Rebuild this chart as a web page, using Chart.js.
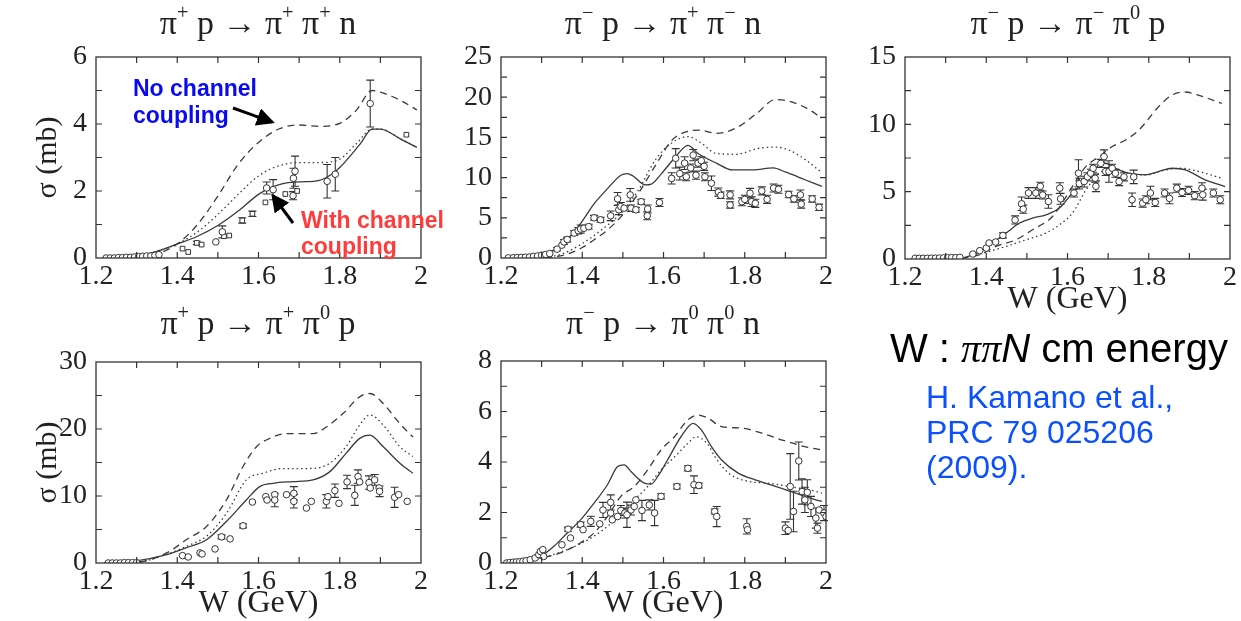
<!DOCTYPE html>
<html><head><meta charset="utf-8">
<script src="https://cdn.jsdelivr.net/npm/chart.js@4.4.1/dist/chart.umd.min.js"></script>
<style>
html,body{margin:0;padding:0;width:1241px;height:621px;overflow:hidden;background:#fff;}
body{position:relative;}
canvas.cv{position:absolute;}
.ttl{position:absolute;font-family:"Liberation Serif","Times New Roman",serif;font-size:34px;line-height:34px;color:#222;white-space:nowrap;transform:translateX(-50%);}
.ttl sup{font-size:0.6em;line-height:0;position:relative;top:-0.15em;vertical-align:super;}
.ann{position:absolute;font-family:"Liberation Sans",Arial,sans-serif;font-weight:bold;font-size:23px;line-height:27px;white-space:nowrap;}
#wtxt{position:absolute;left:890px;top:328px;font-family:"Liberation Sans",Arial,sans-serif;font-size:40px;line-height:40px;color:#000;white-space:nowrap;}
#wtxt .pi{font-family:"Liberation Serif",serif;font-style:italic;}
#cite{position:absolute;left:926px;top:380px;font-family:"Liberation Sans",Arial,sans-serif;font-size:32px;line-height:35px;color:#0a50ff;white-space:nowrap;}
svg#arrows{position:absolute;left:0;top:0;}
</style>
</head><body>
<canvas id="c1" class="cv" width="440" height="318" style="left:0px;top:0px"></canvas>
<canvas id="c2" class="cv" width="440" height="318" style="left:405px;top:0px"></canvas>
<canvas id="c3" class="cv" width="440" height="319" style="left:809px;top:0px"></canvas>
<canvas id="c4" class="cv" width="440" height="318" style="left:0px;top:305px"></canvas>
<canvas id="c5" class="cv" width="440" height="319" style="left:405px;top:304px"></canvas>

<div class="ttl" style="left:258px;top:6px">π<sup>+</sup> p → π<sup>+</sup> π<sup>+</sup> n</div>
<div class="ttl" style="left:663px;top:6px">π<sup>−</sup> p → π<sup>+</sup> π<sup>−</sup> n</div>
<div class="ttl" style="left:1068px;top:6px">π<sup>−</sup> p → π<sup>−</sup> π<sup>0</sup> p</div>
<div class="ttl" style="left:258px;top:306px">π<sup>+</sup> p → π<sup>+</sup> π<sup>0</sup> p</div>
<div class="ttl" style="left:663px;top:306px">π<sup>−</sup> p → π<sup>0</sup> π<sup>0</sup> n</div>

<div class="ann" style="left:133px;top:75px;color:#0a0af0">No channel<br>coupling</div>
<div class="ann" style="left:301px;top:207px;color:#ff3b3b;line-height:26px">With channel<br>coupling</div>
<svg id="arrows" width="1241" height="621">
  <defs><marker id="ah" markerWidth="6" markerHeight="6" refX="5" refY="3" orient="auto" markerUnits="strokeWidth"><path d="M0,0 L6,3 L0,6 z" fill="#000"/></marker></defs>
  <line x1="233" y1="108" x2="272" y2="122" stroke="#000" stroke-width="3" marker-end="url(#ah)"/>
  <line x1="293" y1="223" x2="273" y2="196" stroke="#000" stroke-width="3" marker-end="url(#ah)"/>
</svg>
<div id="wtxt">W : <span class="pi">ππ</span><i>N</i> cm energy</div>
<div id="cite">H. Kamano et al.,<br>PRC 79 025206<br>(2009).</div>

<script>
// ---------------- data ----------------
// x-axis tick labels (W in GeV)
const wTicks = [1.2, 1.4, 1.6, 1.8, 2.0];

// Panel 1: pi+ p -> pi+ pi+ n  (sigma in mb)
const p1Dashed = [[1.22,0],[1.3,0.03],[1.35,0.12],[1.4,0.42],[1.45,1.0],[1.5,1.85],[1.55,2.8],[1.6,3.45],[1.65,3.85],[1.7,3.97],[1.75,3.93],[1.8,4.02],[1.84,4.4],[1.88,5.0],[1.9,4.95],[1.95,4.7],[1.99,4.42]];
const p1Dotted = [[1.22,0],[1.3,0.05],[1.35,0.2],[1.4,0.42],[1.45,0.78],[1.5,1.3],[1.55,1.9],[1.6,2.45],[1.65,2.75],[1.7,2.85],[1.75,2.85],[1.8,2.95],[1.84,3.4],[1.88,3.85],[1.9,3.85],[1.95,3.55],[1.99,3.3]];
const p1Solid  = [[1.22,0],[1.3,0.05],[1.35,0.2],[1.4,0.42],[1.45,0.65],[1.5,0.97],[1.55,1.4],[1.6,1.9],[1.63,2.1],[1.66,2.22],[1.7,2.27],[1.75,2.32],[1.78,2.5],[1.8,2.7],[1.85,3.4],[1.88,3.85],[1.9,3.85],[1.95,3.55],[1.99,3.3]];
const p1Circles = [[1.225,0,0],[1.235,0,0],[1.245,0,0],[1.255,0.01,0],[1.265,0.01,0],[1.275,0.02,0],[1.285,0.02,0],[1.295,0.03,0],[1.305,0.04,0],[1.315,0.05,0],[1.325,0.06,0],[1.335,0.06,0],[1.345,0.08,0],[1.355,0.1,0],
  [1.495,0.48,0],[1.511,0.78,0.18],[1.62,2.09,0.18],[1.636,2.04,0.3],[1.685,1.86,0.12],[1.686,2.38,0.3],[1.69,2.59,0.45],[1.769,2.29,0.5],[1.789,2.5,0.5],[1.875,4.61,0.7]];
const p1Squares = [[1.413,0.28,0],[1.427,0.18,0],[1.448,0.45,0.05],[1.46,0.4,0],[1.515,0.65,0],[1.528,0.67,0],[1.56,1.12,0.08],[1.585,1.32,0.08],[1.617,1.66,0],[1.666,1.91,0],[1.695,2.0,0],[1.964,3.68,0]];

// Panel 2: pi- p -> pi+ pi- n
const p2Dashed = [[1.22,0],[1.3,0.05],[1.338,0.2],[1.37,0.6],[1.4,1.3],[1.43,2.3],[1.46,3.4],[1.5,5.4],[1.54,8.2],[1.58,11.5],[1.62,14.6],[1.65,15.6],[1.69,15.9],[1.73,15.5],[1.78,16.2],[1.83,18.0],[1.875,19.7],[1.9,19.6],[1.95,18.7],[1.99,17.4]];
const p2Dotted = [[1.22,0],[1.3,0.1],[1.35,0.5],[1.4,1.8],[1.45,3.6],[1.5,5.8],[1.54,8.6],[1.58,12.2],[1.62,14.3],[1.66,15.1],[1.69,14.4],[1.73,13.0],[1.78,12.9],[1.83,13.6],[1.875,13.8],[1.91,13.4],[1.95,12.2],[1.99,10.6]];
const p2Solid  = [[1.22,0],[1.28,0.1],[1.313,0.6],[1.346,1.5],[1.39,3.9],[1.43,6.8],[1.46,8.5],[1.495,10.3],[1.51,10.5],[1.525,10.2],[1.555,9.1],[1.57,9.2],[1.595,10.5],[1.63,12.6],[1.66,14.0],[1.685,13.0],[1.73,11.8],[1.77,10.95],[1.82,10.95],[1.87,11.2],[1.9,10.7],[1.95,9.7],[1.99,8.9]];
const p2Circles = [[1.218,0.02,0],[1.23,0.03,0],[1.24,0.05,0],[1.25,0.07,0],[1.26,0.1,0],[1.27,0.12,0],[1.28,0.2,0],[1.29,0.25,0],[1.3,0.35,0],[1.31,0.45,0],[1.32,0.55,0],[1.338,1.1,0.2],[1.35,1.6,0],[1.355,2.0,0.3],[1.363,2.3,0.3],[1.38,3.1,0.3],[1.39,3.4,0.4],[1.396,3.6,0.5],[1.404,3.7,0],[1.416,3.9,0.3],[1.429,5.0,0.3],[1.445,4.75,0.3],[1.47,5.25,0.6],[1.487,7.35,0.8],[1.49,6.0,0.6],[1.495,6.4,0.5],[1.503,6.2,0],[1.518,7.85,0.8],[1.52,6.2,0.4],[1.532,6.0,0.3],[1.545,7.0,0.3],[1.56,5.25,0.5],[1.561,6.1,0.5],[1.59,6.9,0.5],[1.62,9.9,0.7],[1.63,12.4,1.2],[1.64,10.5,0.8],[1.652,11.8,0.8],[1.656,10.1,0.5],[1.667,11.2,0.5],[1.673,12.8,0.7],[1.68,10.3,0.5],[1.685,11.8,0.5],[1.693,12.1,0.5],[1.7,11.4,0.5],[1.702,10.1,0.5],[1.718,9.3,0.9],[1.735,8.2,0.5],[1.741,7.8,0.4],[1.764,7.85,0.5],[1.764,6.6,0.4],[1.793,7.0,0.5],[1.8,7.3,0.5],[1.813,8.06,0.6],[1.817,7.0,0.6],[1.826,6.8,0.5],[1.842,8.35,0.5],[1.855,7.3,0.5],[1.871,8.7,0.5],[1.883,8.55,0.5],[1.908,7.9,0.4],[1.921,7.35,0.4],[1.937,7.85,0.6],[1.939,6.7,0.5],[1.966,7.35,0.4],[1.983,6.3,0.4]];

// Panel 3: pi- p -> pi- pi0 p
const p3Dashed = [[1.22,0],[1.33,0.05],[1.384,0.32],[1.424,0.94],[1.473,1.43],[1.514,2.17],[1.563,3.16],[1.612,5.38],[1.645,6.86],[1.678,7.6],[1.71,8.35],[1.743,8.84],[1.776,9.58],[1.824,11.3],[1.857,12.17],[1.89,12.4],[1.922,12.17],[1.98,11.55]];
const p3Dotted = [[1.22,0],[1.33,0.05],[1.408,0.57],[1.449,0.94],[1.498,1.43],[1.547,1.93],[1.58,2.54],[1.612,3.4],[1.645,5.1],[1.678,6.37],[1.71,6.74],[1.751,6.37],[1.792,6.25],[1.84,6.6],[1.881,6.74],[1.922,6.5],[1.98,6.0]];
const p3Solid  = [[1.22,0],[1.33,0.05],[1.367,0.3],[1.408,1.06],[1.449,1.93],[1.482,2.67],[1.514,3.04],[1.547,3.28],[1.58,3.78],[1.612,4.9],[1.645,5.88],[1.678,7.0],[1.694,7.1],[1.718,6.74],[1.751,6.37],[1.792,6.25],[1.824,6.49],[1.857,6.74],[1.89,6.62],[1.939,5.88],[1.988,5.38]];
const p3Circles = [[1.225,0.05,0],[1.235,0.05,0],[1.245,0.05,0],[1.255,0.05,0],[1.265,0.06,0],[1.275,0.06,0],[1.285,0.07,0],[1.295,0.08,0],[1.305,0.09,0],[1.315,0.1,0],[1.325,0.1,0],[1.335,0.12,0],
  [1.367,0.37,0],[1.384,0.62,0],[1.4,0.81,0],[1.407,1.19,0],[1.423,1.26,0],[1.441,1.75,0.2],[1.471,2.9,0.3],[1.487,4.1,0.5],[1.491,3.7,0.3],[1.504,4.9,0.4],[1.522,4.9,0.4],[1.533,5.4,0.3],[1.539,4.75,0.3],[1.553,4.27,0.5],[1.581,5.26,0.4],[1.583,4.47,0.4],[1.616,4.9,0.3],[1.627,6.37,1.0],[1.629,5.6,0.4],[1.641,5.75,0.4],[1.649,6.1,0.3],[1.657,6.37,0.3],[1.663,6.74,0.3],[1.668,6.0,0.3],[1.67,5.4,0.4],[1.682,7.1,0.3],[1.69,7.6,0.5],[1.694,6.5,0.3],[1.702,6.5,0.8],[1.71,6.74,0.3],[1.718,6.37,0.3],[1.727,5.75,0.3],[1.739,6.1,0.3],[1.763,6.1,0.5],[1.759,4.4,0.5],[1.785,4.15,0.3],[1.793,4.4,0.3],[1.804,4.9,0.5],[1.816,4.2,0.3],[1.839,4.9,0.3],[1.851,4.5,0.4],[1.869,5.26,0.3],[1.882,4.94,0.3],[1.898,5.1,0.3],[1.913,4.7,0.3],[1.931,5.26,0.4],[1.933,4.77,0.4],[1.959,4.9,0.3],[1.976,4.4,0.3]];

// Panel 4: pi+ p -> pi+ pi0 p
const p4Dashed = [[1.22,0],[1.3,0.1],[1.374,1.5],[1.423,3.5],[1.472,5.45],[1.521,9.4],[1.562,14.4],[1.595,17.35],[1.628,18.6],[1.669,19.3],[1.702,19.3],[1.734,19.3],[1.767,20.3],[1.808,22.3],[1.849,24.8],[1.874,25.3],[1.907,23.8],[1.948,20.8],[1.98,18.8]];
const p4Dotted = [[1.22,0],[1.3,0.1],[1.374,1.3],[1.423,2.5],[1.472,4.0],[1.521,7.4],[1.57,12.4],[1.611,13.4],[1.66,14.1],[1.718,14.1],[1.767,14.6],[1.816,17.4],[1.849,20.6],[1.874,22.1],[1.907,20.6],[1.948,17.35],[1.98,15.9]];
const p4Solid  = [[1.22,0],[1.292,0.25],[1.374,1.24],[1.423,2.3],[1.472,3.47],[1.521,6.2],[1.57,9.4],[1.603,11.4],[1.636,11.9],[1.685,12.15],[1.734,12.4],[1.775,13.6],[1.816,16.4],[1.849,18.6],[1.874,19.1],[1.907,17.35],[1.948,14.9],[1.98,13.4]];
const p4Circles = [[1.23,0,0],[1.24,0,0],[1.25,0,0],[1.26,0,0],[1.27,0.05,0],[1.28,0.05,0],[1.29,0.05,0],[1.3,0.05,0],
  [1.413,1.1,0],[1.427,0.9,0],[1.456,1.5,0],[1.461,1.35,0],[1.493,2.1,0],[1.509,3.9,0.3],[1.53,3.6,0],[1.562,5.55,0.3],[1.585,9.1,0],[1.618,9.9,0],[1.621,9.4,0],[1.64,10.2,0],[1.64,9.4,1.0],[1.669,10.2,0],[1.687,10.4,1.0],[1.687,9.2,1.0],[1.718,8.2,0],[1.73,9.2,0],[1.767,9.2,1.0],[1.771,9.9,0],[1.788,10.8,1.0],[1.798,8.9,0],[1.818,12.1,1.0],[1.837,10.1,1.5],[1.845,12.9,1.0],[1.849,12.1,0],[1.872,12.0,1.0],[1.875,11.2,0],[1.886,12.4,0.8],[1.897,11.2,0],[1.898,10.7,0.8],[1.935,9.8,1.5],[1.945,10.2,0],[1.966,9.2,0]];

// Panel 5: pi- p -> pi0 pi0 n
const p5Dashed = [[1.22,0.02],[1.247,0.07],[1.297,0.2],[1.346,0.4],[1.396,0.8],[1.429,1.19],[1.462,1.84],[1.495,2.64],[1.528,3.03],[1.561,3.69],[1.594,4.48],[1.627,5.0],[1.66,5.67],[1.685,5.86],[1.71,5.73],[1.743,5.4],[1.792,5.34],[1.842,5.14],[1.892,4.87],[1.95,4.6],[1.99,4.48]];
const p5Dotted = [[1.22,0.02],[1.3,0.2],[1.4,0.8],[1.462,1.45],[1.495,1.98],[1.528,2.5],[1.561,3.03],[1.594,3.69],[1.627,4.2],[1.66,4.74],[1.68,5.0],[1.71,4.68],[1.727,4.2],[1.76,3.56],[1.81,3.23],[1.859,3.16],[1.908,3.03],[1.958,2.9],[1.99,2.77]];
const p5Solid  = [[1.22,0.02],[1.25,0.07],[1.297,0.26],[1.33,0.66],[1.363,1.19],[1.396,1.71],[1.429,2.37],[1.462,3.1],[1.487,3.82],[1.503,3.89],[1.52,3.62],[1.553,3.16],[1.569,3.12],[1.586,3.43],[1.61,4.08],[1.643,5.0],[1.673,5.53],[1.693,5.27],[1.718,4.61],[1.743,4.08],[1.784,3.56],[1.826,3.29],[1.876,3.03],[1.925,2.77],[1.975,2.5],[1.99,2.44]];
const p5Circles = [[1.214,0,0],[1.222,0.02,0],[1.23,0.03,0],[1.238,0.04,0],[1.246,0.05,0],[1.254,0.07,0],[1.262,0.09,0],[1.272,0.13,0],[1.284,0.2,0],[1.293,0.33,0],[1.297,0.46,0],[1.303,0.53,0],[1.305,0.26,0],
  [1.35,0.72,0],[1.365,1.34,0.08],[1.371,0.99,0],[1.396,1.52,0.1],[1.402,1.32,0],[1.421,1.65,0.2],[1.443,1.55,0],[1.451,2.1,0.3],[1.47,2.4,0.3],[1.47,1.98,0],[1.474,1.71,0],[1.487,1.84,0],[1.495,2.08,0.2],[1.505,1.98,0.2],[1.51,1.91,0.5],[1.52,2.1,0.2],[1.528,2.24,0],[1.532,2.5,0],[1.547,2.08,0.4],[1.565,2.3,0.2],[1.578,1.98,0.5],[1.594,2.64,0.1],[1.633,3.03,0.1],[1.66,3.75,0.1],[1.675,3.1,0.35],[1.687,3.07,0.1],[1.726,2.04,0.1],[1.731,1.84,0.4],[1.805,1.45,0.3],[1.807,1.32,0],[1.9,1.38,0.25],[1.907,1.29,0],[1.912,3.03,1.3],[1.92,2.04,0.8],[1.933,4.04,0.75],[1.941,2.83,0.5],[1.948,2.5,0.5],[1.954,2.8,0.5],[1.963,2.24,0.4],[1.975,1.78,0.4],[1.979,1.38,0.2],[1.983,2.1,0],[1.995,1.98,0.3],[2.0,1.84,0]];

// ---------------- plugins ----------------
const frameTicks = {
  id:'frameTicks',
  afterDraw(chart, args, o){
    const {ctx, chartArea:a, scales:{x,y}} = chart;
    ctx.save();
    ctx.strokeStyle='#333'; ctx.lineWidth=1.3;
    ctx.strokeRect(a.left, a.top, a.right-a.left, a.bottom-a.top);
    ctx.lineWidth=1.2;
    const L=6;
    ctx.beginPath();
    const nx = Math.round((x.max-x.min)/o.xStep);
    for(let i=1;i<nx;i++){ const px=x.getPixelForValue(x.min+i*o.xStep);
      ctx.moveTo(px,a.bottom); ctx.lineTo(px,a.bottom-L); ctx.moveTo(px,a.top); ctx.lineTo(px,a.top+L); }
    const ny = Math.round((y.max-y.min)/o.yStep);
    for(let i=1;i<ny;i++){ const py=y.getPixelForValue(y.min+i*o.yStep);
      ctx.moveTo(a.left,py); ctx.lineTo(a.left+L,py); ctx.moveTo(a.right,py); ctx.lineTo(a.right-L,py); }
    ctx.stroke();
    ctx.restore();
  }
};
const errorBars = {
  id:'errorBars',
  beforeDatasetsDraw(chart){
    const {ctx, scales:{x,y}} = chart;
    ctx.save(); ctx.strokeStyle='#333'; ctx.lineWidth=1.1;
    chart.data.datasets.forEach(ds=>{
      if(!ds.errors) return;
      ds.data.forEach((p,j)=>{
        const e = ds.errors[j]; if(!e) return;
        const px=x.getPixelForValue(p.x), y1=y.getPixelForValue(p.y+e), y2=y.getPixelForValue(p.y-e);
        ctx.beginPath();
        ctx.moveTo(px,y1); ctx.lineTo(px,y2);
        ctx.moveTo(px-4,y1); ctx.lineTo(px+4,y1);
        ctx.moveTo(px-4,y2); ctx.lineTo(px+4,y2);
        ctx.stroke();
      });
    });
    ctx.restore();
  }
};

// ---------------- builders ----------------
const pts = arr => arr.map(r=>({x:r[0], y:r[1]}));
const lineDs = (arr, dash) => ({data:pts(arr), showLine:true, pointRadius:0, borderColor:'#3a3a3a', borderWidth:1.3, borderDash:dash, fill:false, cubicInterpolationMode:'monotone', order:2});
const markDs = (arr, style) => ({data:pts(arr), errors:arr.map(r=>r[2]), showLine:false, pointStyle:style, pointRadius:3.3, borderWidth:1, borderColor:'#333', backgroundColor:'#fff', order:1});
const fmt = v => String(Number(Number(v).toFixed(2)));

const serif = '"Liberation Serif","Times New Roman",serif';
function makeChart(id, o){
  const datasets = [
    lineDs(o.dashed,[7,5]),
    lineDs(o.dotted,[1.5,3]),
    lineDs(o.solid,[]),
    ...o.marks.map(m=>markDs(m[0], m[1]))
  ];
  return new Chart(document.getElementById(id), {
    type:'scatter',
    data:{datasets},
    options:{
      responsive:false, animation:false, devicePixelRatio:1,
      layout:{padding:{top:57,right:19,left:0,bottom:0}},
      plugins:{legend:{display:false}, tooltip:{enabled:false}, frameTicks:{xStep:0.1, yStep:o.yMinor}},
      scales:{
        x:{type:'linear', min:1.2, max:2.0,
           grid:{display:false, drawTicks:false}, border:{display:false},
           afterBuildTicks:s=>{ s.ticks = wTicks.map(v=>({value:v})); },
           ticks:{padding:2, color:'#222', maxRotation:0, autoSkip:false, font:{family:serif, size:28}, callback:v=>fmt(v)},
           title:{display:o.xTitle, text:'W (GeV)', color:'#222', font:{family:serif, size:32}, padding:{top:0,bottom:0}},
           afterFit:s=>{ s.height = 60; }},
        y:{type:'linear', min:0, max:o.yMax,
           grid:{display:false, drawTicks:false}, border:{display:false},
           afterBuildTicks:s=>{ s.ticks = o.yTicks.map(v=>({value:v})); },
           ticks:{padding:9, color:'#222', font:{family:serif, size:28}, callback:v=>fmt(v)},
           title:{display:o.yTitle, text:'σ (mb)', color:'#222', font:{family:serif, size:30}, padding:{top:30,bottom:0}},
           afterFit:s=>{ s.width = 96; }}
      }
    },
    plugins:[errorBars, frameTicks]
  });
}

makeChart('c1',{dashed:p1Dashed,dotted:p1Dotted,solid:p1Solid,marks:[[p1Circles,'circle'],[p1Squares,'rect']],yMax:6,yTicks:[0,2,4,6],yMinor:1,xTitle:false,yTitle:true});
makeChart('c2',{dashed:p2Dashed,dotted:p2Dotted,solid:p2Solid,marks:[[p2Circles,'circle']],yMax:25,yTicks:[0,5,10,15,20,25],yMinor:2.5,xTitle:false,yTitle:false});
makeChart('c3',{dashed:p3Dashed,dotted:p3Dotted,solid:p3Solid,marks:[[p3Circles,'circle']],yMax:15,yTicks:[0,5,10,15],yMinor:2.5,xTitle:true,yTitle:false});
makeChart('c4',{dashed:p4Dashed,dotted:p4Dotted,solid:p4Solid,marks:[[p4Circles,'circle']],yMax:30,yTicks:[0,10,20,30],yMinor:5,xTitle:true,yTitle:true});
makeChart('c5',{dashed:p5Dashed,dotted:p5Dotted,solid:p5Solid,marks:[[p5Circles,'circle']],yMax:8,yTicks:[0,2,4,6,8],yMinor:1,xTitle:true,yTitle:false});
</script>
</body></html>
